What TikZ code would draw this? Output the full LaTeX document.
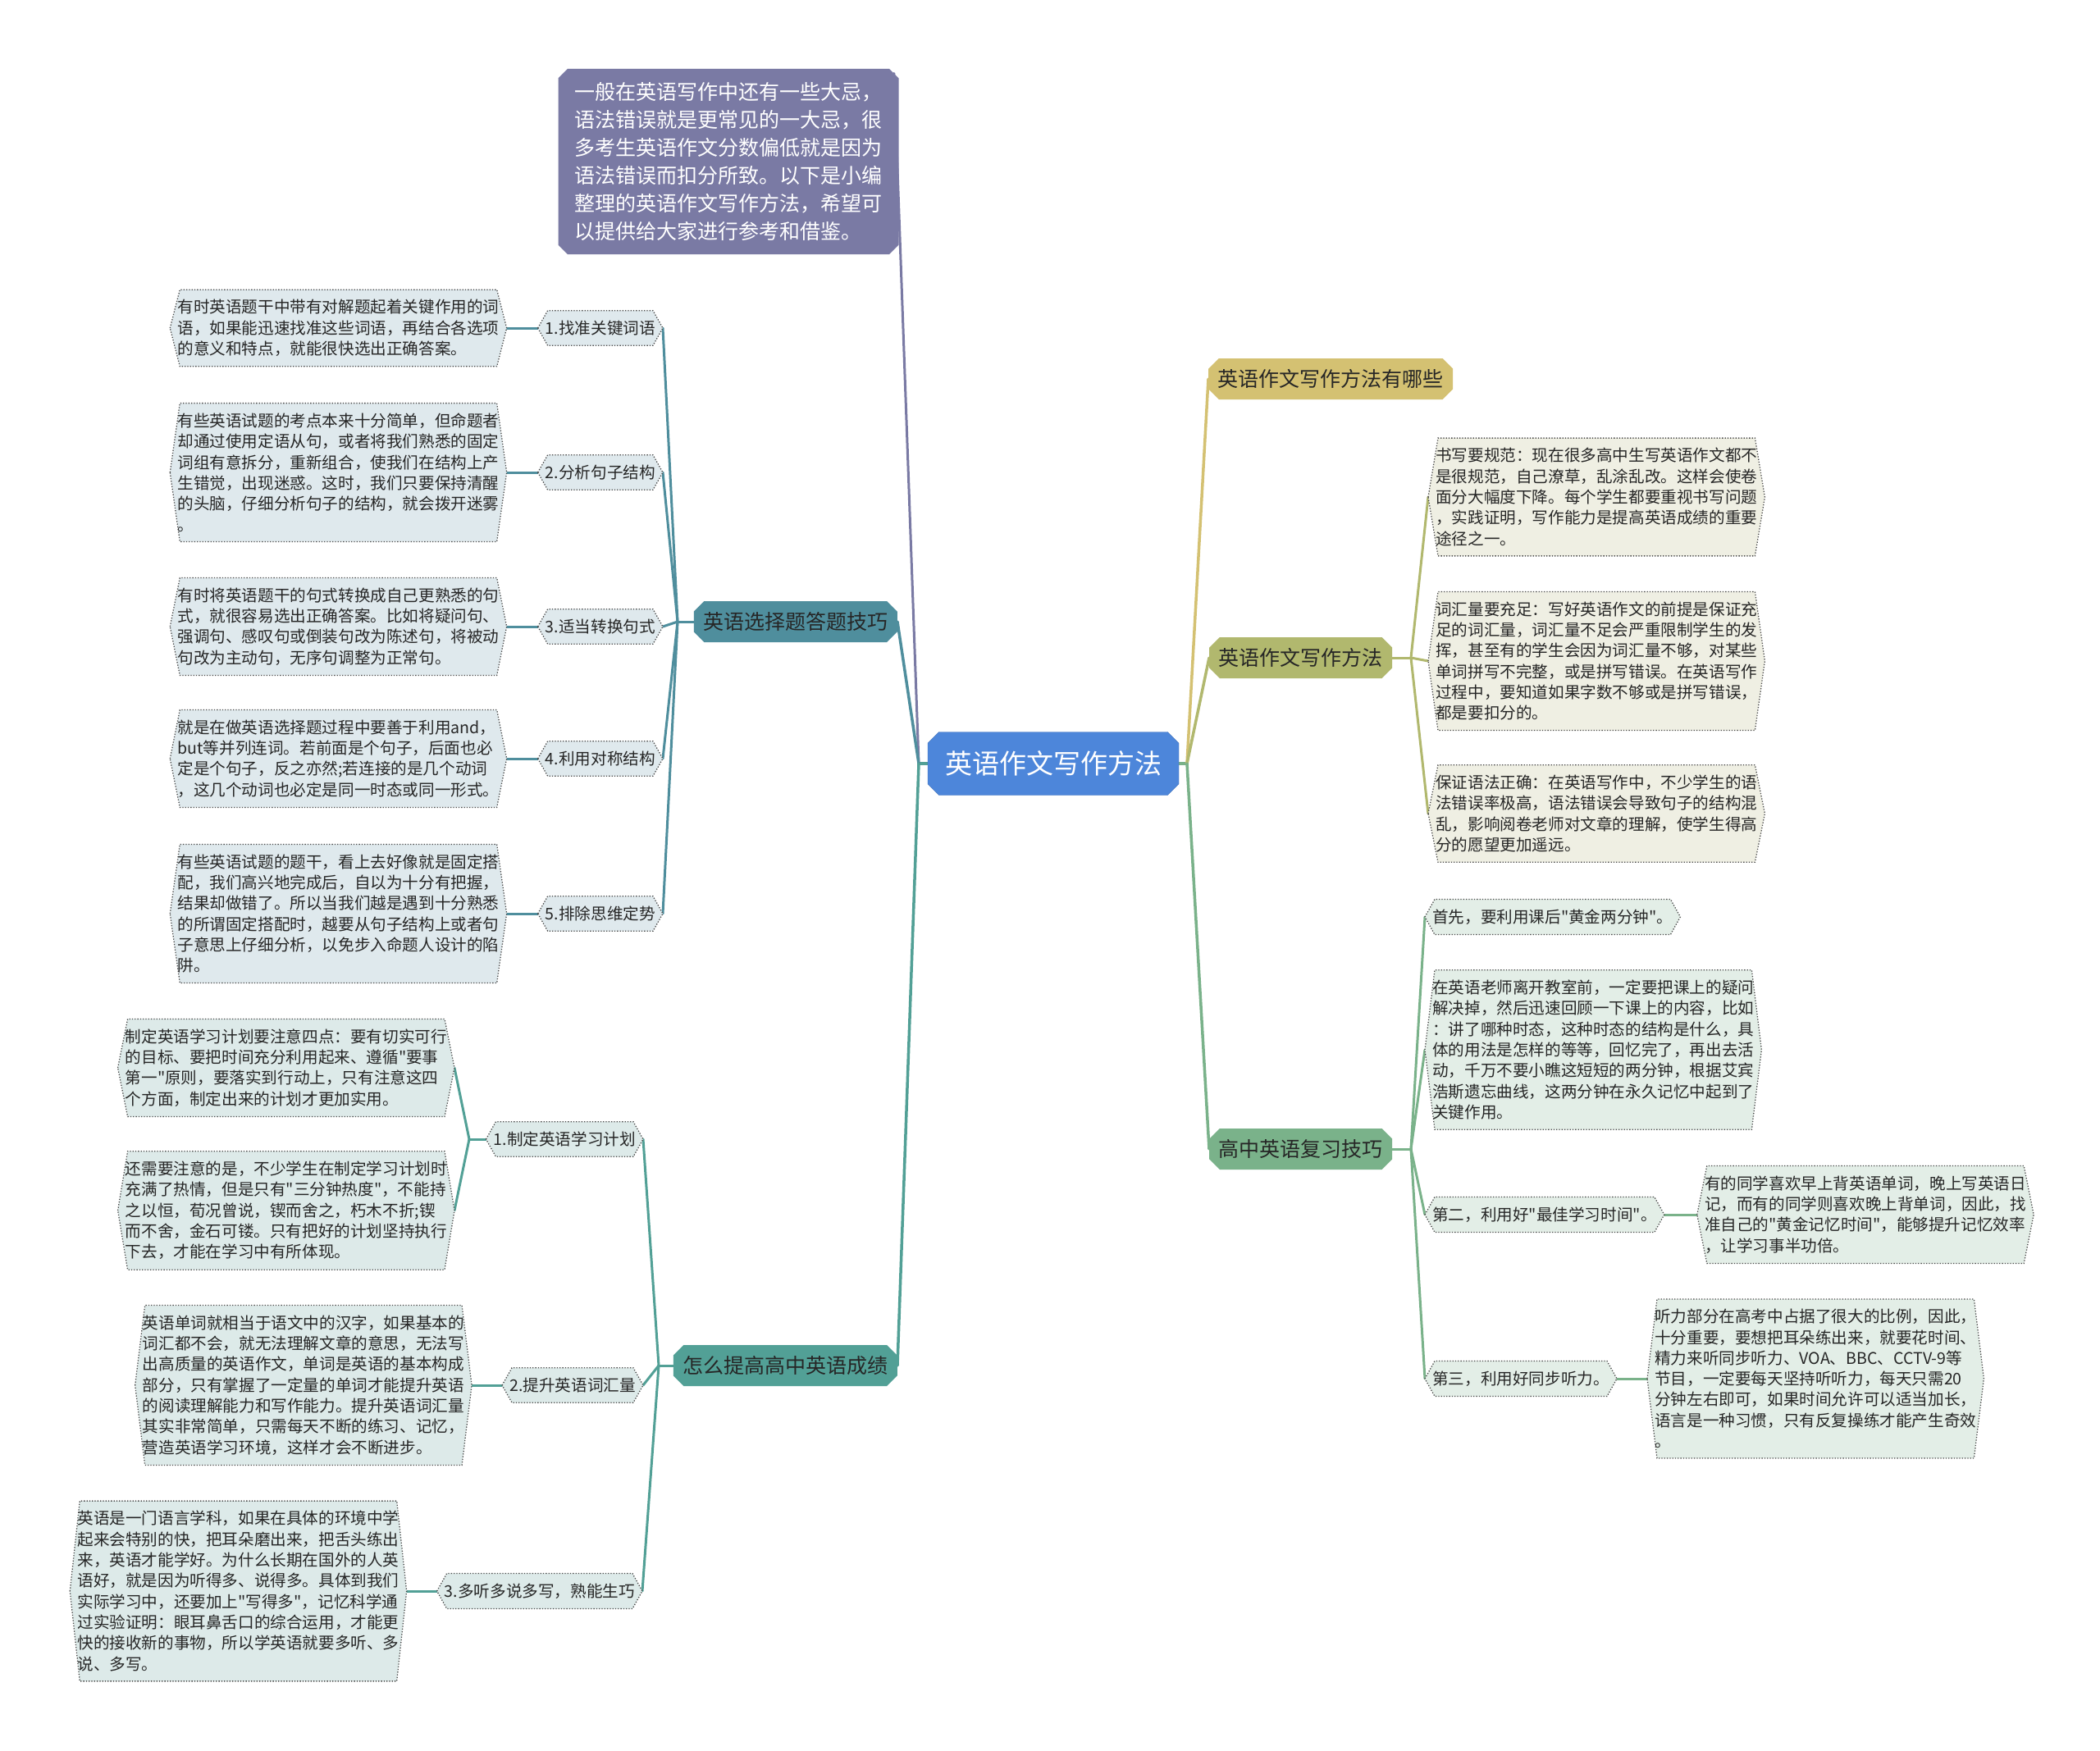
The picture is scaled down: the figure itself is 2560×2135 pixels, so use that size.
\documentclass[tikz,border=0pt]{standalone}
\usepackage{fontspec}
\setmainfont{Noto Sans CJK SC}[Ligatures=TeXOff]
\usetikzlibrary{positioning,shapes.misc,backgrounds}

\definecolor{centerblue}{HTML}{4D86DA}
\definecolor{introgray}{HTML}{7A7AA4}
\definecolor{tealblue}{HTML}{4F8E9D}
\definecolor{tealgreen}{HTML}{52A096}
\definecolor{goldbranch}{HTML}{D4C172}
\definecolor{olivebranch}{HTML}{B1B86E}
\definecolor{greenbranch}{HTML}{7AB28A}
\definecolor{leafblue}{HTML}{DFE9ED}
\definecolor{leafteal}{HTML}{DDEAE9}
\definecolor{leafbeige}{HTML}{EFEFE3}
\definecolor{leafgreen}{HTML}{E3EEE7}

% hexagon frame round a named node: name, fill, cut
\newcommand{\hexbox}[3]{%
  \filldraw[fill=#2,draw=black!70,dotted,line width=1.3pt]
    (#1.west) -- ([xshift=#3]#1.north west) -- ([xshift=-#3]#1.north east)
    -- (#1.east) -- ([xshift=-#3]#1.south east) -- ([xshift=#3]#1.south west) -- cycle;}

\begin{document}
\begin{tikzpicture}[x=1pt,y=-1pt,
    main node/.style={chamfered rectangle,chamfered rectangle xsep=10pt,fill=centerblue,
      draw=centerblue!85!black,text=white,font=\fontsize{33pt}{40pt}\selectfont,
      minimum width=306pt,minimum height=77pt,inner sep=0pt},
    intro node/.style={chamfered rectangle,chamfered rectangle xsep=8pt,fill=introgray,
      text=white,align=left,font=\fontsize{25pt}{34pt}\selectfont,inner xsep=12pt,inner ysep=13pt},
    branch node/.style={chamfered rectangle,chamfered rectangle xsep=9pt,
      font=\fontsize{25pt}{30pt}\selectfont,text=black!85,minimum height=50pt,
      inner xsep=2.5pt,inner ysep=0pt},
    sub node/.style={font=\fontsize{19.6pt}{25.3pt}\selectfont,text=black!85,
      inner xsep=9pt,inner ysep=12pt},
    leaf node/.style={sub node,text width=392pt,align=left},
    link/.style={line width=3pt,line cap=round}]
  \useasboundingbox (0,0) rectangle (2560,2135);

  %centre%
  \node[main node] (center) at (1284,931) {英语作文写作方法};
  \node[intro node] (intro) at (888,197) {一般在英语写作中还有一些大忌，\\语法错误就是更常见的一大忌，很\\多考生英语作文分数偏低就是因为\\语法错误而扣分所致。以下是小编\\整理的英语作文写作方法，希望可\\以提供给大家进行参考和借鉴。};

  %branches%
  \node[branch node,fill=tealblue,anchor=east] (choice) at (1094,758) {英语选择题答题技巧};
  \node[branch node,fill=tealgreen,anchor=east] (improve) at (1094,1665) {怎么提高高中英语成绩};
  \node[branch node,fill=goldbranch,anchor=west] (which) at (1473,462) {英语作文写作方法有哪些};
  \node[branch node,fill=olivebranch,anchor=west] (method) at (1474,802) {英语作文写作方法};
  \node[branch node,fill=greenbranch,anchor=west] (review) at (1474,1401) {高中英语复习技巧};

  %choice%
  \node[sub node,anchor=east] (c1) at (808,400) {1.找准关键词语};
  \node[leaf node,left=38pt of c1] (c1t) {有时英语题干中带有对解题起着关键作用的词\\语，如果能迅速找准这些词语，再结合各选项\\的意义和特点，就能很快选出正确答案。};
  \node[sub node,anchor=east] (c2) at (808,576) {2.分析句子结构};
  \node[leaf node,left=38pt of c2] (c2t) {有些英语试题的考点本来十分简单，但命题者\\却通过使用定语从句，或者将我们熟悉的固定\\词组有意拆分，重新组合，使我们在结构上产\\生错觉，出现迷惑。这时，我们只要保持清醒\\的头脑，仔细分析句子的结构，就会拨开迷雾\\。};
  \node[sub node,anchor=east] (c3) at (808,764) {3.适当转换句式};
  \node[leaf node,left=38pt of c3] (c3t) {有时将英语题干的句式转换成自己更熟悉的句\\式，就很容易选出正确答案。比如将疑问句、\\强调句、感叹句或倒装句改为陈述句，将被动\\句改为主动句，无序句调整为正常句。};
  \node[sub node,anchor=east] (c4) at (808,925) {4.利用对称结构};
  \node[leaf node,left=38pt of c4] (c4t) {就是在做英语选择题过程中要善于利用and，\\but等并列连词。若前面是个句子，后面也必\\定是个句子，反之亦然;若连接的是几个动词\\，这几个动词也必定是同一时态或同一形式。};
  \node[sub node,anchor=east] (c5) at (808,1114) {5.排除思维定势};
  \node[leaf node,left=38pt of c5] (c5t) {有些英语试题的题干，看上去好像就是固定搭\\配，我们高兴地完成后，自以为十分有把握，\\结果却做错了。所以当我们越是遇到十分熟悉\\的所谓固定搭配时，越要从句子结构上或者句\\子意思上仔细分析，以免步入命题人设计的陷\\阱。};

  %improve%
  \node[sub node,anchor=east] (i1) at (784,1389) {1.制定英语学习计划};
  \node[leaf node,anchor=east] (i1a) at (554,1302) {制定英语学习计划要注意四点：要有切实可行\\的目标、要把时间充分利用起来、遵循"要事\\第一"原则，要落实到行动上，只有注意这四\\个方面，制定出来的计划才更加实用。};
  \node[leaf node,anchor=east] (i1b) at (554,1476) {还需要注意的是，不少学生在制定学习计划时\\充满了热情，但是只有"三分钟热度"，不能持\\之以恒，荀况曾说，锲而舍之，朽木不折;锲\\而不舍，金石可镂。只有把好的计划坚持执行\\下去，才能在学习中有所体现。};
  \node[sub node,anchor=east] (i2) at (784,1689) {2.提升英语词汇量};
  \node[leaf node,left=37pt of i2] (i2t) {英语单词就相当于语文中的汉字，如果基本的\\词汇都不会，就无法理解文章的意思，无法写\\出高质量的英语作文，单词是英语的基本构成\\部分，只有掌握了一定量的单词才能提升英语\\的阅读理解能力和写作能力。提升英语词汇量\\其实非常简单，只需每天不断的练习、记忆，\\营造英语学习环境，这样才会不断进步。};
  \node[sub node,anchor=east] (i3) at (783,1940) {3.多听多说多写，熟能生巧};
  \node[leaf node,left=37pt of i3] (i3t) {英语是一门语言学科，如果在具体的环境中学\\起来会特别的快，把耳朵磨出来，把舌头练出\\来，英语才能学好。为什么长期在国外的人英\\语好，就是因为听得多、说得多。具体到我们\\实际学习中，还要加上"写得多"，记忆科学通\\过实验证明：眼耳鼻舌口的综合运用，才能更\\快的接收新的事物，所以学英语就要多听、多\\说、多写。};

  %method%
  \node[leaf node,anchor=west] (m1) at (1741,606) {书写要规范：现在很多高中生写英语作文都不\\是很规范，自己潦草，乱涂乱改。这样会使卷\\面分大幅度下降。每个学生都要重视书写问题\\，实践证明，写作能力是提高英语成绩的重要\\途径之一。};
  \node[leaf node,anchor=west] (m2) at (1741,806) {词汇量要充足：写好英语作文的前提是保证充\\足的词汇量，词汇量不足会严重限制学生的发\\挥，甚至有的学生会因为词汇量不够，对某些\\单词拼写不完整，或是拼写错误。在英语写作\\过程中，要知道如果字数不够或是拼写错误，\\都是要扣分的。};
  \node[leaf node,anchor=west] (m3) at (1741,992) {保证语法正确：在英语写作中，不少学生的语\\法错误率极高，语法错误会导致句子的结构混\\乱，影响阅卷老师对文章的理解，使学生得高\\分的愿望更加遥远。};

  %review%
  \node[sub node,anchor=west] (r1) at (1737,1118) {首先，要利用课后"黄金两分钟"。};
  \node[leaf node,anchor=west] (r2) at (1737,1280) {在英语老师离开教室前，一定要把课上的疑问\\解决掉，然后迅速回顾一下课上的内容，比如\\：讲了哪种时态，这种时态的结构是什么，具\\体的用法是怎样的等等，回忆完了，再出去活\\动，千万不要小瞧这短短的两分钟，根据艾宾\\浩斯遗忘曲线，这两分钟在永久记忆中起到了\\关键作用。};
  \node[sub node,anchor=west] (r3) at (1737,1481) {第二，利用好"最佳学习时间"。};
  \node[leaf node,right=40pt of r3] (r3t) {有的同学喜欢早上背英语单词，晚上写英语日\\记，而有的同学则喜欢晚上背单词，因此，找\\准自己的"黄金记忆时间"，能够提升记忆效率\\，让学习事半功倍。};
  \node[sub node,anchor=west] (r4) at (1737,1681) {第三，利用好同步听力。};
  \node[leaf node,right=37pt of r4] (r4t) {听力部分在高考中占据了很大的比例，因此，\\十分重要，要想把耳朵练出来，就要花时间、\\精力来听同步听力、VOA、BBC、CCTV-9等\\节目，一定要每天坚持听听力，每天只需20\\分钟左右即可，如果时间允许可以适当加长，\\语言是一种习惯，只有反复操练才能产生奇效\\。};

  \coordinate (jl) at (1120,931);
  \coordinate (jr) at (1447,931);
  \coordinate (jc) at (826,758);
  \coordinate (ji) at (803,1665);
  \coordinate (ji1) at (572,1389);
  \coordinate (jm) at (1720,802);
  \coordinate (jv) at (1720,1401);

  \begin{scope}[on background layer]
    \fill[white] (0,0) rectangle (2560,2135);
    %links%
    \draw[link,line width=4pt,tealgreen] (center.west) -- (jl);
    \draw[link,line width=4pt,greenbranch] (center.east) -- (jr);
    \draw[link,introgray] (jl) -- (intro.north east);
    \draw[link,line width=3.5pt,tealblue] (jl) -- (choice.east);
    \draw[link,line width=3.5pt,tealgreen] (jl) -- (improve.east);
    \draw[link,line width=3.5pt,goldbranch] (jr) -- (which.west);
    \draw[link,line width=3.5pt,olivebranch] (jr) -- (method.west);
    \draw[link,line width=3.5pt,greenbranch] (jr) -- (review.west);
    \path[link,tealblue] (choice.west) edge (jc)
      (jc) edge (c1.east) edge (c2.east) edge (c3.east) edge (c4.east) edge (c5.east)
      (c1.west) edge (c1t.east) (c2.west) edge (c2t.east) (c3.west) edge (c3t.east)
      (c4.west) edge (c4t.east) (c5.west) edge (c5t.east);
    \path[link,tealgreen] (improve.west) edge (ji)
      (ji) edge (i1.east) edge (i2.east) edge (i3.east)
      (i1.west) edge (ji1) (ji1) edge (i1a.east) edge (i1b.east)
      (i2.west) edge (i2t.east) (i3.west) edge (i3t.east);
    \path[link,olivebranch] (method.east) edge (jm)
      (jm) edge (m1.west) edge (m2.west) edge (m3.west);
    \path[link,greenbranch] (review.east) edge (jv)
      (jv) edge (r1.west) edge (r2.west) edge (r3.west) edge (r4.west)
      (r3.east) edge (r3t.west) (r4.east) edge (r4t.west);
    %frames%
    \foreach \n in {c1,c1t,c2,c2t,c3,c3t,c4,c4t,c5,c5t} {\hexbox{\n}{leafblue}{12pt}}
    \foreach \n in {i1,i1a,i1b,i2,i2t,i3,i3t} {\hexbox{\n}{leafteal}{12pt}}
    \foreach \n in {m1,m2,m3} {\hexbox{\n}{leafbeige}{12pt}}
    \foreach \n in {r1,r2,r3,r3t,r4,r4t} {\hexbox{\n}{leafgreen}{12pt}}
  \end{scope}
\end{tikzpicture}
\end{document}
